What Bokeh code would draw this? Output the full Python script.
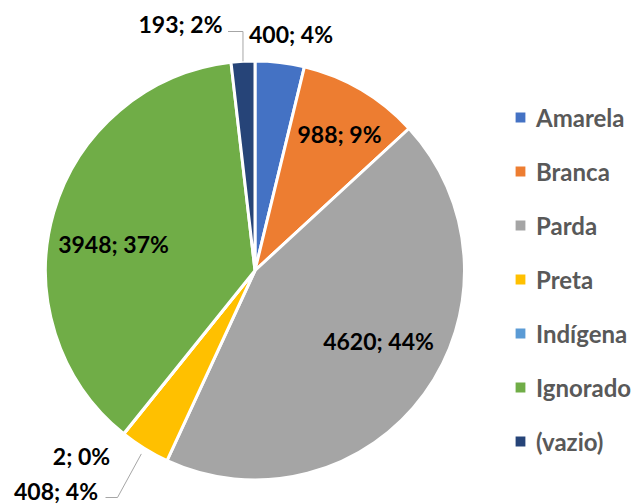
import math
from bokeh.plotting import figure
from bokeh.models import ColumnDataSource, Range1d, Legend, LegendItem
from bokeh.embed import file_html
from bokeh.resources import INLINE
from bokeh.core.properties import value

# ---------------- data ----------------
categories = ["Amarela", "Branca", "Parda", "Preta", "Indígena", "Ignorado", "(vazio)"]
counts = [400, 988, 4620, 408, 2, 3948, 193]

# ---------------- styles / layout ----------------
colors = ["#4472C4", "#ED7D31", "#A5A5A5", "#FFC000", "#5B9BD5", "#70AD47", "#264478"]
W, H = 635, 504
CX, CY = 254.5, 270          # pie centre in page pixels
RADIUS = 209.5
# label centre offsets from pie centre (px, y up)
label_offsets = [(36, 236.5), (84.5, 137), (123.5, -70), (-199, -220),
                 (-173.5, -185), (-141.5, 27), (-74.5, 247)]
FONT = "Lato"

total = sum(counts)
pcts = [round(100 * c / total) for c in counts]
labels = [f"{c}; {p}%" for c, p in zip(counts, pcts)]

starts, ends, mids = [], [], []
cum = 0
for c in counts:
    a0 = cum / total
    cum += c
    a1 = cum / total
    starts.append(math.pi / 2 - 2 * math.pi * a0)
    ends.append(math.pi / 2 - 2 * math.pi * a1)
    mids.append(math.pi / 2 - 2 * math.pi * (a0 + a1) / 2)

src = ColumnDataSource(dict(cat=categories, start=starts, end=ends, color=colors))

p = figure(width=W, height=H,
           x_range=Range1d(0 - CX, W - CX),
           y_range=Range1d(CY - H, CY),
           x_axis_type=None, y_axis_type=None,
           toolbar_location=None, output_backend="svg",
           min_border=0, outline_line_color=None)
p.background_fill_color = "white"
p.border_fill_color = "white"

r = p.wedge(x=0, y=0, radius=RADIUS, start_angle="start", end_angle="end",
            direction="clock", fill_color="color", line_color="white",
            line_width=3, source=src)

# leader lines for (vazio) and Preta
iv = categories.index("(vazio)")
ip = categories.index("Preta")
ex_v = RADIUS * math.cos(mids[iv]); ey_v = RADIUS * math.sin(mids[iv])
ex_p = RADIUS * 1.03 * math.cos(mids[ip]); ey_p = RADIUS * 1.03 * math.sin(mids[ip])
lv = label_offsets[iv]
lp = label_offsets[ip]
xs = [[lv[0] + 47.5, ex_v, ex_v], [lp[0] + 49.5, lp[0] + 61.5, ex_p]]
ys = [[lv[1] - 8, lv[1] - 8, ey_v], [lp[1] - 7, lp[1] - 7, ey_p]]
p.multi_line(xs=xs, ys=ys, line_color="#A6A6A6", line_width=1)

lsrc = ColumnDataSource(dict(x=[o[0] for o in label_offsets],
                             y=[o[1] for o in label_offsets], text=labels))
p.text(x="x", y="y", text="text", source=lsrc, text_font=value(FONT),
       text_font_style="bold", text_font_size="23px", text_align="center",
       text_baseline="middle", text_color="#000000")

legend = Legend(items=[LegendItem(label=c, renderers=[r], index=i)
                       for i, c in enumerate(categories)],
                location=(512, 48), label_text_font=FONT,
                label_text_font_style="bold", label_text_font_size="24px",
                label_text_color="#595959", glyph_width=16, glyph_height=16,
                label_standoff=8, spacing=24, label_height=30, padding=0,
                margin=0, border_line_color=None, background_fill_alpha=0)
p.add_layout(legend)

open("out.html", "w").write(file_html(p, INLINE))
